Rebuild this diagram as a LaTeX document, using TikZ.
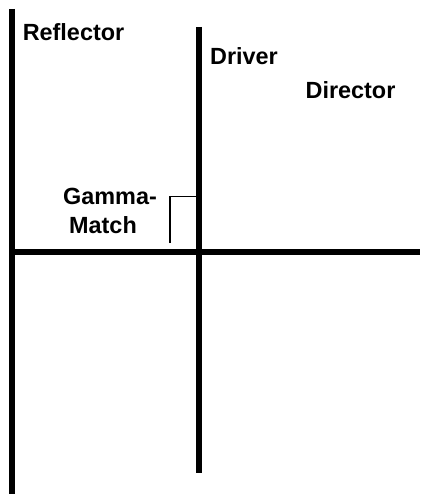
\documentclass[tikz,border=0pt]{standalone}
\usepackage{fontspec}
\setmainfont{Liberation Sans}
\tikzset{
  elem/.style={line width=6bp,black},
  thinwire/.style={line width=1.5bp,black},
  lbl/.style={font=\fontsize{23.5}{28}\selectfont\bfseries,inner sep=0pt,text=black,anchor=base}
}
\begin{document}
\begin{tikzpicture}[x=1bp,y=-1bp]
\useasboundingbox (0,0) rectangle (420,494);
\fill[white] (0,0) rectangle (420,494);
\draw[elem] (12,9) -- (12,494);
\draw[elem] (198.5,27) -- (198.5,473);
\draw[elem] (12,252) -- (420,252);
\draw[thinwire] (170,243) -- (170,196.5) -- (196,196.5);
\node[lbl] (reflector) at (73.5,41) {Reflector};
\node[lbl] (driver) at (244,65) {Driver};
\node[lbl] (director) at (350.5,98.5) {Director};
\node[lbl] (gamma) at (110,204) {Gamma-};
\node[lbl] (match) at (103,233) {Match};
\end{tikzpicture}
\end{document}
